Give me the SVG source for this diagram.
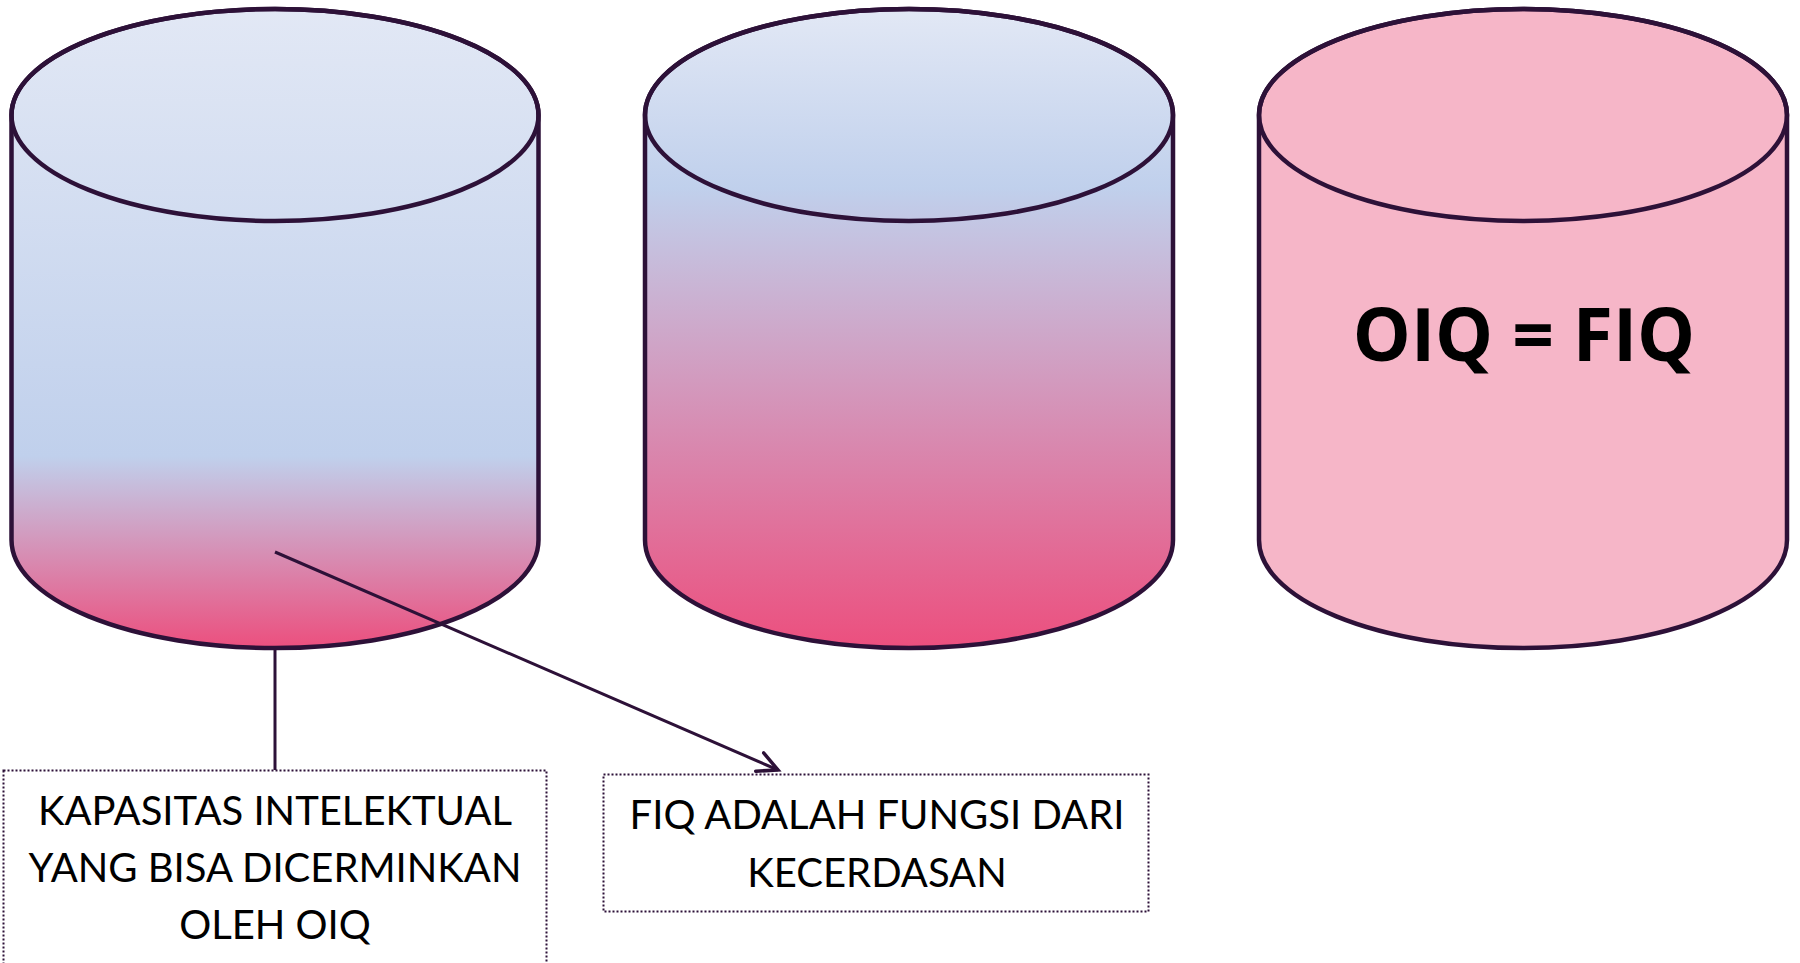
<svg xmlns="http://www.w3.org/2000/svg" width="1800" height="963" viewBox="0 0 1800 963">
  <style>
    .cyl { stroke: #2d1138; stroke-width: 4.5; }
    .rim { fill: none; stroke: #2d1138; stroke-width: 4.5; }
    .box { fill: #ffffff; stroke: #2d1138; stroke-width: 2; stroke-dasharray: 2 2; }
    .lbl { font-family: Lato, "Open Sans", "Liberation Sans", sans-serif; font-size: 40px; fill: #000000; text-anchor: middle; }
    .big { font-family: "Open Sans", "Liberation Sans", sans-serif; font-size: 73px; font-weight: bold; fill: #000000; text-anchor: middle; }
    .conn { fill: none; stroke: #2d1138; stroke-width: 3; }
  </style>
  <defs>
    <linearGradient id="g1" gradientUnits="userSpaceOnUse" x1="0" y1="9" x2="0" y2="648">
      <stop offset="0" stop-color="#e2e8f5"/>
      <stop offset="0.70" stop-color="#c0d0ec"/>
      <stop offset="1" stop-color="#ec4f7e"/>
    </linearGradient>
    <linearGradient id="g2" gradientUnits="userSpaceOnUse" x1="0" y1="9" x2="0" y2="648">
      <stop offset="0" stop-color="#e2e8f5"/>
      <stop offset="0.28" stop-color="#c0d0ec"/>
      <stop offset="1" stop-color="#ec4f7e"/>
    </linearGradient>
    <marker id="arr" markerUnits="userSpaceOnUse" markerWidth="30" markerHeight="30" refX="22" refY="12" orient="auto">
      <path d="M2,2 L22,12 L2,22" fill="none" stroke="#2d1138" stroke-width="3.5" stroke-linecap="round"/>
    </marker>
  </defs>

  <g id="cylinder1">
    <path class="cyl" fill="url(#g1)" d="M11.5,115 L11.5,540 A263.5,108 0 0 0 538.5,540 L538.5,115 A263.5,106 0 0 0 11.5,115 Z"/>
    <ellipse class="rim" cx="275" cy="115" rx="263.5" ry="106"/>
  </g>

  <g id="cylinder2">
    <path class="cyl" fill="url(#g2)" d="M645,115 L645,540 A264,108 0 0 0 1173,540 L1173,115 A264,106 0 0 0 645,115 Z"/>
    <ellipse class="rim" cx="909" cy="115" rx="264" ry="106"/>
  </g>

  <g id="cylinder3">
    <path class="cyl" fill="#f6b6c8" d="M1259,115 L1259,540 A264,108 0 0 0 1787,540 L1787,115 A264,106 0 0 0 1259,115 Z"/>
    <ellipse class="rim" cx="1523" cy="115" rx="264" ry="106"/>
    <text class="big" x="1524" y="361">OIQ = FIQ</text>
  </g>

  <g id="box1">
    <rect class="box" x="3.5" y="770.5" width="543" height="220"/>
    <text class="lbl" x="275" y="825">KAPASITAS INTELEKTUAL</text>
    <text class="lbl" x="275" y="882">YANG BISA DICERMINKAN</text>
    <text class="lbl" x="275" y="939">OLEH OIQ</text>
  </g>

  <g id="box2">
    <rect class="box" x="603.5" y="774.5" width="545" height="137"/>
    <text class="lbl" x="877" y="829">FIQ ADALAH FUNGSI DARI</text>
    <text class="lbl" x="877" y="887">KECERDASAN</text>
  </g>

  <g id="connectors">
    <line class="conn" x1="275" y1="650" x2="275" y2="770"/>
    <line class="conn" x1="275" y1="552" x2="778" y2="770" marker-end="url(#arr)"/>
  </g>
</svg>
